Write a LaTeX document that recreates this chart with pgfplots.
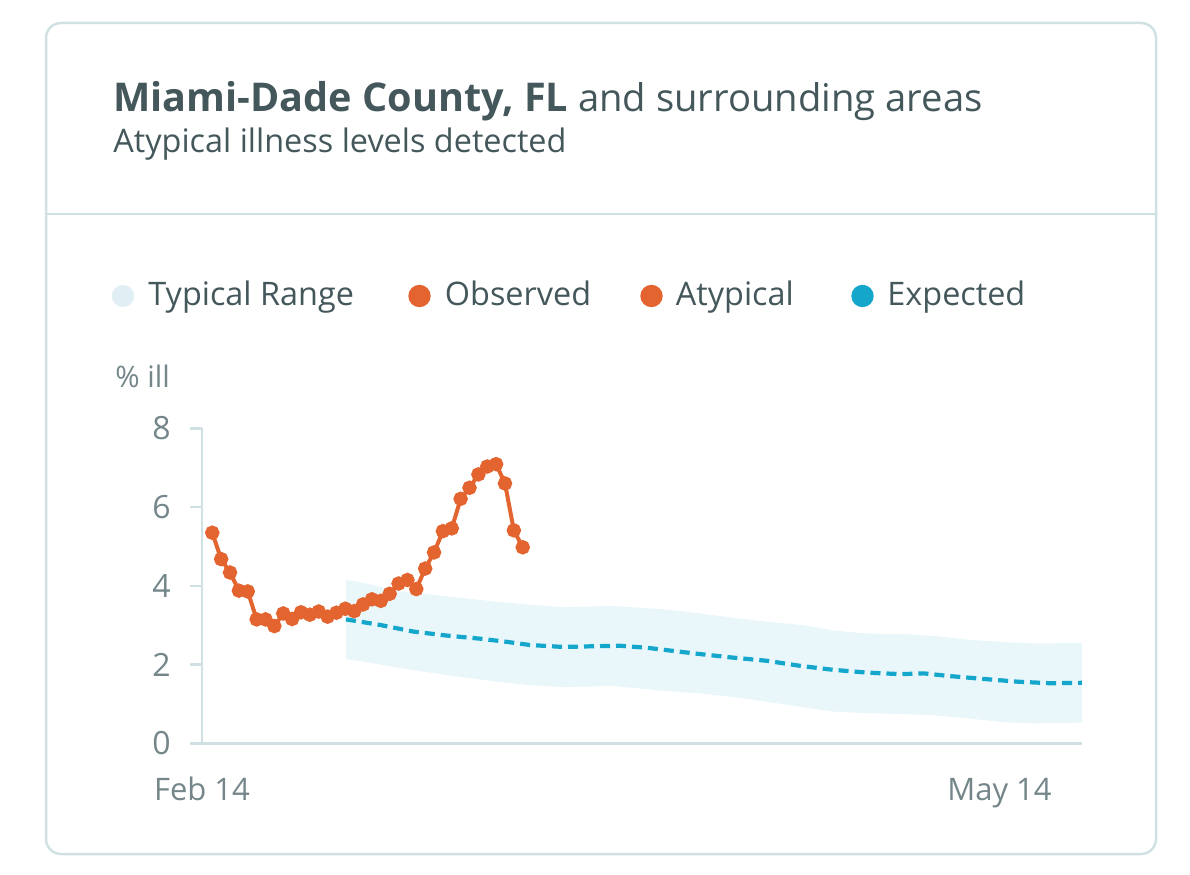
\documentclass[border=0pt]{standalone}
\usepackage{pgfplots}
\pgfplotsset{compat=1.18}
\usepgfplotslibrary{fillbetween}
\usepackage{fontspec}
\setmainfont{Open Sans}
\definecolor{cardborder}{HTML}{D0E1E4}
\definecolor{titlecol}{HTML}{44575B}
\definecolor{tickcol}{HTML}{74868A}
\definecolor{obsorange}{HTML}{E3642F}
\definecolor{expblue}{HTML}{14A7CB}
\definecolor{bandfill}{HTML}{E9F6FA}
\definecolor{bandleg}{HTML}{E1EFF5}

\pgfplotstableread{
day val
0 5.35
1 4.68
2 4.34
3 3.88
4 3.86
5 3.15
6 3.15
7 2.98
8 3.30
9 3.16
10 3.33
11 3.27
12 3.35
13 3.22
14 3.32
15 3.42
16 3.36
17 3.53
18 3.66
19 3.62
20 3.80
21 4.06
22 4.15
23 3.92
24 4.44
25 4.85
26 5.39
27 5.46
28 6.21
29 6.49
30 6.83
31 7.03
32 7.09
33 6.60
34 5.41
35 4.98
}\observed

\pgfplotstableread{
day up low
15.07 4.15 2.14
17.0 4.08 2.08
20.8 3.87 1.93
24.5 3.78 1.80
28.3 3.69 1.68
32.1 3.60 1.57
35.8 3.52 1.48
39.5 3.46 1.43
45.2 3.49 1.46
50.8 3.41 1.34
55.0 3.30 1.27
58.7 3.19 1.18
62.5 3.09 1.06
66.3 3.01 0.93
70.0 2.87 0.81
73.8 2.79 0.77
77.6 2.78 0.75
81.3 2.73 0.72
85.0 2.64 0.64
88.8 2.58 0.55
92.5 2.54 0.51
98.05 2.55 0.53
}\band

\pgfplotstableread{
day val
15.07 3.15
18.9 3.01
22.7 2.84
26.4 2.74
30.2 2.66
33.2 2.58
35.8 2.50
39.6 2.45
43.3 2.47
46.0 2.48
49.0 2.43
52.7 2.33
55.0 2.27
58.7 2.18
62.5 2.10
66.3 1.97
70.0 1.87
73.8 1.80
77.6 1.76
80.2 1.78
83.2 1.71
86.9 1.64
90.7 1.57
94.4 1.53
98.05 1.54
}\expected

\begin{document}
\begin{tikzpicture}[x=0.5pt,y=0.5pt]
\path (0,0) rectangle (1190,874);
\draw[cardborder, line width=1.25pt, rounded corners=7.5pt] (46,20) rectangle (1156,851);
\draw[cardborder, line width=1.25pt] (46,660) -- (1156,660);
% title
\node[anchor=base west, inner sep=0pt, text=titlecol, font=\fontsize{19.8pt}{24pt}\selectfont] at (113,762) {\textbf{Miami-Dade County, FL}\fontsize{19.1pt}{24pt}\selectfont{} and surrounding areas};
\node[anchor=base west, inner sep=0pt, text=titlecol, font=\fontsize{16.2pt}{19pt}\selectfont] at (113,721) {Atypical illness levels detected};
% legend
\begin{scope}[font=\fontsize{16.2pt}{19pt}\selectfont, text=titlecol]
\fill[bandleg] (123,578) circle (5.6pt);
\node[anchor=base west, inner sep=0pt] at (148,568.5) {Typical Range};
\fill[obsorange] (419.5,578) circle (5.6pt);
\node[anchor=base west, inner sep=0pt] at (444.5,568.5) {Observed};
\fill[obsorange] (651.5,578) circle (5.6pt);
\node[anchor=base west, inner sep=0pt] at (675.5,568.5) {Atypical};
\fill[expblue] (862.5,578) circle (5.6pt);
\node[anchor=base west, inner sep=0pt] at (887,568.5) {Expected};
\end{scope}
\node[anchor=base west, inner sep=0pt, text=tickcol, font=\fontsize{14.8pt}{17pt}\selectfont] at (115,486) {\% ill};
\begin{axis}[
  at={(101pt,65.25pt)}, anchor=south west,
  scale only axis, width=440pt, height=157.6pt,
  xmin=-1.16, xmax=98.05, ymin=0, ymax=8,
  axis lines*=left,
  axis line style={cardborder, line width=1.25pt},
  ytick={0,2,4,6,8},
  xtick={-1.16,88.75}, xticklabels={Feb 14, May 14},
  tick align=outside,
  y tick style={cardborder, line width=1.25pt},
  x tick style={draw=none},
  major tick length=6pt,
  /pgf/number format/assume math mode=true,
  yticklabel style={text=tickcol, font=\fontsize{16pt}{19pt}\selectfont, inner sep=0pt, anchor=east, xshift=-9.5pt},
  xticklabel style={text=tickcol, font=\fontsize{15.5pt}{18pt}\selectfont, inner sep=0pt, anchor=base, yshift=-22.5pt},
  clip=false,
]
\addplot[name path=up, draw=none, forget plot] table[x=day, y=up] {\band};
\addplot[name path=low, draw=none, forget plot] table[x=day, y=low] {\band};
\addplot[bandfill, draw=none] fill between[of=up and low];
\addplot[expblue, line width=2.1pt, dash pattern=on 5pt off 3pt] table[x=day, y=val] {\expected};
\addplot[obsorange, line width=2pt, mark=*, mark size=2.6pt, mark options={solid, fill=obsorange, draw=obsorange}] table[x=day, y=val] {\observed};
\end{axis}
\end{tikzpicture}
\end{document}
